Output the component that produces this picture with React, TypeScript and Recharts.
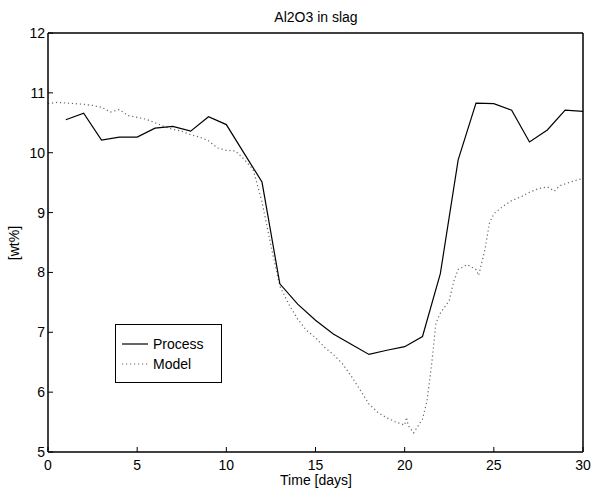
import { LineChart, Line, XAxis, YAxis, Legend } from 'recharts';

// measured process values, one per day
const processDays = [1, 2, 3, 4, 5, 6, 7, 8, 9, 10, 11, 12, 13, 14, 15, 16, 17, 18, 19, 20, 21, 22, 23, 24, 25, 26, 27, 28, 29, 30];
const processValues = [10.55, 10.66, 10.21, 10.26, 10.26, 10.41, 10.44, 10.36, 10.6, 10.47, 9.99, 9.51, 7.81, 7.47, 7.2, 6.97, 6.8, 6.63, 6.7, 6.76, 6.93, 7.98, 9.88, 10.83, 10.82, 10.71, 10.18, 10.38, 10.71, 10.69];

// model output
const modelDays = [0, 0.5, 1, 1.5, 2, 2.5, 3, 3.5, 4, 4.5, 5, 5.5, 6, 6.5, 7, 7.5, 8, 8.5, 9, 9.5, 10, 10.5, 11, 11.5, 12, 12.5, 13, 13.5, 14, 14.5, 15, 15.5, 16, 16.5, 17, 17.5, 18, 18.5, 19, 19.5, 20, 20.1, 20.2, 20.5, 21, 21.25, 21.5, 21.75, 22, 22.5, 22.75, 23, 23.5, 24, 24.15, 24.5, 24.75, 25, 25.5, 26, 26.5, 27, 27.5, 28, 28.4, 28.7, 29, 29.5, 30];
const modelValues = [10.82, 10.84, 10.83, 10.82, 10.81, 10.79, 10.76, 10.68, 10.72, 10.62, 10.59, 10.56, 10.5, 10.44, 10.39, 10.36, 10.3, 10.26, 10.2, 10.08, 10.04, 10.03, 9.89, 9.72, 9.18, 8.45, 7.77, 7.47, 7.22, 7.03, 6.91, 6.75, 6.63, 6.48, 6.27, 6.04, 5.8, 5.66, 5.57, 5.5, 5.45, 5.58, 5.44, 5.32, 5.55, 5.85, 6.43, 7.15, 7.32, 7.53, 7.85, 8.05, 8.13, 8.05, 7.95, 8.38, 8.82, 8.98, 9.1, 9.2, 9.26, 9.34, 9.4, 9.43, 9.36, 9.45, 9.48, 9.53, 9.57];

const xTicks = [0, 5, 10, 15, 20, 25, 30];
const yTicks = [5, 6, 7, 8, 9, 10, 11, 12];

const processData = processDays.map((day, i) => ({ day, value: processValues[i] }));
const modelData = modelDays.map((day, i) => ({ day, value: modelValues[i] }));

const font = "'Liberation Sans', Arial, Helvetica, sans-serif";
const tickStyle = { fontSize: 14, fill: '#000', fontFamily: font };
const axisLine = { stroke: '#000', strokeWidth: 1.5 };
const tickLine = { stroke: '#000', strokeWidth: 1 };

const LegendBox = () => (
  <div
    style={{
      width: 107,
      height: 59,
      boxSizing: 'border-box',
      border: '1.5px solid #000',
      background: '#fff',
      fontFamily: font,
      fontSize: 14,
      color: '#000',
      padding: '9px 0 0 5px',
    }}
  >
    {[
      { label: 'Process', stroke: '#000', dash: undefined },
      { label: 'Model', stroke: '#666', dash: '1.2 2.8' },
    ].map((item) => (
      <div key={item.label} style={{ display: 'flex', alignItems: 'center', height: 20 }}>
        <svg width={32} height={10}>
          <line x1={1} y1={5} x2={27} y2={5} stroke={item.stroke} strokeWidth={1.2} strokeDasharray={item.dash} />
        </svg>
        <span>{item.label}</span>
      </div>
    ))}
  </div>
);

export default function App() {
  return (
    <div style={{ position: 'absolute', left: 0, top: 0, width: 596, height: 489, background: '#fff' }}>
      <LineChart width={596} height={489} margin={{ top: 32, right: 12, bottom: 0, left: 0 }}>
        <XAxis
          xAxisId="main"
          type="number"
          dataKey="day"
          domain={[0, 30]}
          ticks={xTicks}
          height={37}
          axisLine={axisLine}
          tickLine={tickLine}
          tickSize={-5}
          tickMargin={13}
          tick={tickStyle}
          allowDataOverflow
        />
        <XAxis
          xAxisId="top"
          orientation="top"
          type="number"
          dataKey="day"
          domain={[0, 30]}
          ticks={xTicks}
          height={1}
          axisLine={axisLine}
          tickLine={tickLine}
          tickSize={-5}
          tick={false}
          allowDataOverflow
        />
        <YAxis
          yAxisId="main"
          type="number"
          domain={[5, 12]}
          ticks={yTicks}
          width={48}
          axisLine={axisLine}
          tickLine={tickLine}
          tickSize={-5}
          tickMargin={8}
          tick={tickStyle}
          allowDataOverflow
        />
        <YAxis
          yAxisId="right"
          orientation="right"
          type="number"
          domain={[5, 12]}
          ticks={yTicks}
          width={1}
          axisLine={axisLine}
          tickLine={tickLine}
          tickSize={-5}
          tick={false}
          allowDataOverflow
        />
        {/* invisible series so the top and right frame axes get drawn */}
        <Line
          xAxisId="top"
          yAxisId="right"
          data={modelData}
          dataKey="value"
          stroke="none"
          dot={false}
          activeDot={false}
          legendType="none"
          isAnimationActive={false}
        />
        <Line
          xAxisId="main"
          yAxisId="main"
          data={modelData}
          dataKey="value"
          name="Model"
          type="linear"
          stroke="#666"
          strokeWidth={1.2}
          strokeDasharray="1.2 2.8"
          dot={false}
          isAnimationActive={false}
        />
        <Line
          xAxisId="main"
          yAxisId="main"
          data={processData}
          dataKey="value"
          name="Process"
          type="linear"
          stroke="#000"
          strokeWidth={1.2}
          dot={false}
          isAnimationActive={false}
        />
        <Legend
          layout="horizontal"
          verticalAlign="middle"
          align="center"
          content={() => <LegendBox />}
          wrapperStyle={{ left: 115, top: 324, width: 107, height: 59 }}
        />
        <text x={316} y={22} textAnchor="middle" fontSize={14} fontFamily={font} fill="#000">
          Al2O3 in slag
        </text>
        <text x={316} y={485} textAnchor="middle" fontSize={14} fontFamily={font} fill="#000">
          Time [days]
        </text>
        <text
          x={19}
          y={243}
          textAnchor="middle"
          fontSize={14}
          fontFamily={font}
          fill="#000"
          transform="rotate(-90 19 243)"
        >
          [wt%]
        </text>
      </LineChart>
    </div>
  );
}
